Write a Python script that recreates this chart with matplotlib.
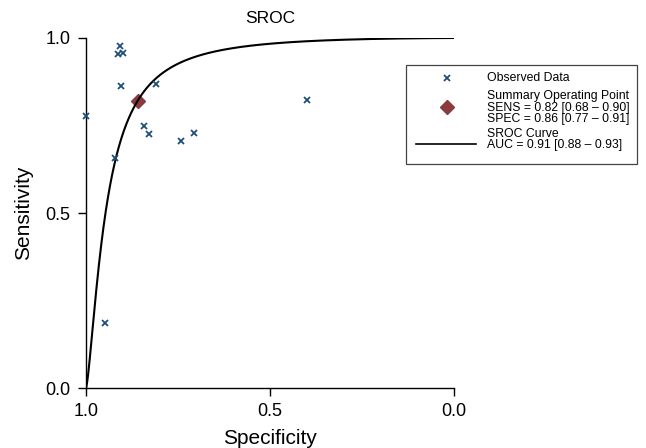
"""
SROC plot for the pooled diagnostic accuracy studies
"""
import matplotlib

matplotlib.use("Agg")
import matplotlib.pyplot as plt
import numpy as np
from matplotlib.lines import Line2D
from matplotlib.patches import Rectangle

plt.rcParams["font.family"] = ["Liberation Sans", "DejaVu Sans"]

# Observed study data
specificity = [0.908, 0.914, 0.899, 0.904, 0.811, 1.000, 0.400,
               0.843, 0.828, 0.743, 0.707, 0.921, 0.949]
sensitivity = [0.977, 0.955, 0.956, 0.862, 0.869, 0.777, 0.823,
               0.749, 0.727, 0.706, 0.728, 0.658, 0.185]

# Summary operating point and SROC fit
summary_sens = 0.82
summary_spec = 0.86
sroc_slope = 1.42

legend_labels = [
    "Observed Data",
    "Summary Operating Point\nSENS = 0.82 [0.68 \u2013 0.90]\nSPEC = 0.86 [0.77 \u2013 0.91]",
    "SROC Curve\nAUC = 0.91 [0.88 \u2013 0.93]",
]

POINT_COLOR = "#1f4e7a"
SUMMARY_COLOR = "#8b3a3e"


def logit(p):
    return np.log(p / (1 - p))


def sroc_curve(fpr):
    intercept = logit(summary_sens) - sroc_slope * logit(1 - summary_spec)
    return 1 / (1 + np.exp(-(intercept + sroc_slope * logit(fpr))))


fig = plt.figure(figsize=(6.46, 4.48), dpi=100)
ax = fig.add_axes([0.1331, 0.1339, 0.5697, 0.7813])

# SROC curve
fpr = np.linspace(1e-6, 1 - 1e-6, 2000)
ax.plot(1 - fpr, sroc_curve(fpr), color="black", lw=1.5, zorder=4,
        solid_capstyle="butt")
ax.plot([1, 1 - fpr[0]], [0, sroc_curve(fpr[0])], color="black", lw=1.5, zorder=4)

# Studies and summary point
ax.plot(specificity, sensitivity, linestyle="none", marker="x", ms=4.5, mew=1.3,
        color=POINT_COLOR, zorder=5, clip_on=False)
ax.plot([summary_spec], [summary_sens], linestyle="none", marker="D", ms=7.5,
        color=SUMMARY_COLOR, zorder=3, clip_on=False)

ax.set_xlim(1, 0)
ax.set_ylim(0, 1)
ax.set_xticks([1.0, 0.5, 0.0])
ax.set_yticks([0.0, 0.5, 1.0])
ax.set_xticklabels(["1.0", "0.5", "0.0"])
ax.set_yticklabels(["0.0", "0.5", "1.0"])

for side in ["top", "right"]:
    ax.spines[side].set_visible(False)
for side in ["left", "bottom"]:
    ax.spines[side].set_linewidth(1.0)
ax.tick_params(direction="out", length=6, width=1.0, pad=5, labelsize=13)

ax.set_xlabel("Specificity", fontsize=15, labelpad=6)
ax.set_ylabel("Sensitivity", fontsize=15, labelpad=9)
ax.set_title("SROC", fontsize=12.5, pad=11)

# Legend box, drawn in figure pixels
W, H = 646.0, 448.0


def fx(px):
    return px / W


def fy(py):
    return 1 - py / H


fig.add_artist(Rectangle((fx(406), fy(164)), fx(637) - fx(406), fy(65) - fy(164),
                         transform=fig.transFigure, fill=False,
                         edgecolor="#444444", lw=0.9))
fig.add_artist(Line2D([fx(447)], [fy(77.7)], transform=fig.transFigure,
                      marker="x", ms=4.5, mew=1.3, color=POINT_COLOR))
fig.add_artist(Line2D([fx(447)], [fy(107.3)], transform=fig.transFigure,
                      marker="D", ms=7.5, color=SUMMARY_COLOR))
fig.add_artist(Line2D([fx(416), fx(476)], [fy(144.3), fy(144.3)],
                      transform=fig.transFigure, color="black", lw=1.2))

text_rows = [77.7, 107.5, 139.3]
for label, row in zip(legend_labels, text_rows):
    fig.text(fx(487), fy(row), label, fontsize=8.8, va="center", ha="left",
             linespacing=0.95)

fig.savefig("out.png", dpi=100)
